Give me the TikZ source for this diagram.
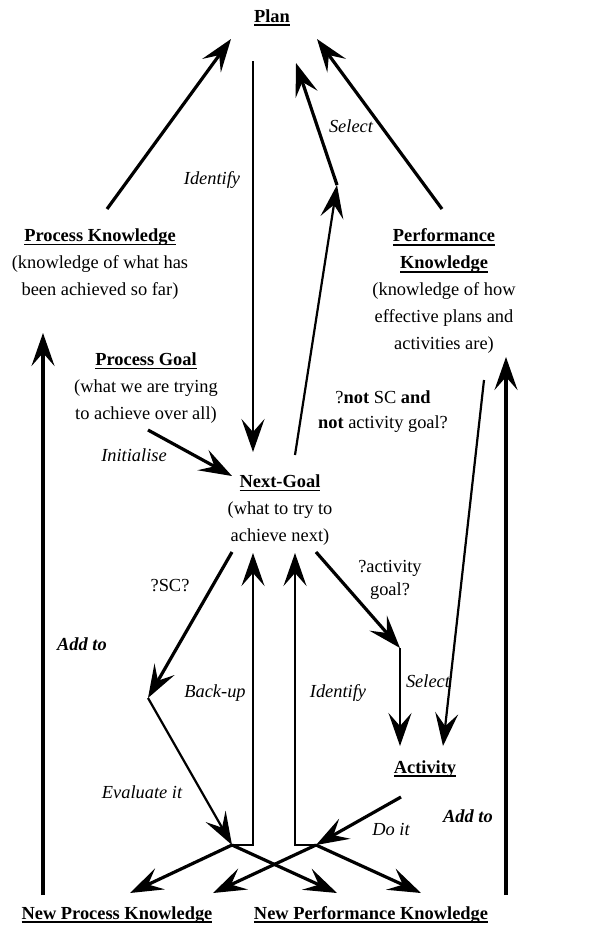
\documentclass[tikz,border=0pt]{standalone}
\usepackage{fontspec}
\setmainfont{Liberation Serif}
\usetikzlibrary{arrows.meta}
\newcommand\myul[1]{\leavevmode\setbox0\hbox{#1}\rlap{\vrule width\wd0 height -2.4pt depth 4.0pt}\box0}
\begin{document}
\begin{tikzpicture}[x=1pt,y=-1pt,
  every node/.style={inner sep=0pt,align=center,font=\fontsize{18.4}{27}\selectfont},
  txt/.style={anchor=center},
  btxt/.style={anchor=base},
  lab/.style={font=\fontsize{18.4}{27}\selectfont\itshape},
  blab/.style={font=\fontsize{18.4}{27}\selectfont\bfseries\itshape},
  bigarr/.style={line width=3.2pt,-{Stealth[length=33pt,width=23pt,inset=13pt]}},
  thinarr/.style={line width=2.2pt,-{Stealth[length=33pt,width=23pt,inset=13pt]}},
]
\useasboundingbox (0,0) rectangle (608,929);

% text nodes
\node[btxt] (plan) at (272,22) {\myul{\textbf{Plan}}};
\node[txt] (pk) at (100,264) {\myul{\textbf{Process Knowledge}}\\(knowledge of what has\\been achieved so far)};
\node[txt] (perfk) at (444,291) {\myul{\textbf{Performance}}\\\myul{\textbf{Knowledge}}\\(knowledge of how\\effective plans and\\activities are)};
\node[txt] (pg) at (146,388) {\myul{\textbf{Process Goal}}\\(what we are trying\\to achieve over all)};
\node[txt] (ng) at (280,510) {\myul{\textbf{Next-Goal}}\\(what to try to\\achieve next)};
\node[txt,font=\fontsize{18.4}{25}\selectfont] (notsc) at (383,412) {?\textbf{not} SC \textbf{and}\\\textbf{not} activity goal?};
\node[txt,font=\fontsize{18.4}{23}\selectfont] (actg) at (390,580) {?activity\\goal?};
\node[btxt] (act) at (425,773) {\myul{\textbf{Activity}}};
\node[btxt] (npk) at (117,919) {\myul{\textbf{New Process Knowledge}}};
\node[btxt] (nperf) at (371,919) {\myul{\textbf{New Performance Knowledge}}};
\node[txt] (sc) at (170,586) {?SC?};

% labels
\node[lab] (l1) at (212,180) {Identify};
\node[lab] (l2) at (351,126) {Select};
\node[lab] (l3) at (134,455) {Initialise};
\node[blab] (l4) at (82,644) {Add to};
\node[blab] (l5) at (468,816) {Add to};
\node[lab] (l6) at (142,792) {Evaluate it};
\node[lab] (l7) at (215,693) {Back-up};
\node[lab] (l8) at (338,693) {Identify};
\node[lab] (l9) at (428,681) {Select};
\node[lab] (l10) at (391,829) {Do it};

% connector points
\coordinate (pkS) at (107,209);
\coordinate (planL) at (231,39);
\coordinate (idT) at (253,61);
\coordinate (ngT) at (253,452);
\coordinate (ngS) at (295,455);
\coordinate (selB) at (337,185);
\coordinate (planM) at (296,63);
\coordinate (perfS) at (442,209);
\coordinate (planR) at (317,39);
\coordinate (pgS) at (148,430);
\coordinate (ngL) at (232,476);
\coordinate (npkUp) at (43,895);
\coordinate (pkIn) at (43,333);
\coordinate (nperfUp) at (506,895);
\coordinate (perfIn) at (506,357);
\coordinate (perfD) at (484,380);
\coordinate (actR) at (443,746);
\coordinate (ngSW) at (232,552);
\coordinate (scB) at (148,698);
\coordinate (jL) at (232,845);
\coordinate (jLc) at (253,845);
\coordinate (ngB1) at (253,553);
\coordinate (jR) at (316,845);
\coordinate (jRc) at (295,845);
\coordinate (ngB2) at (295,553);
\coordinate (ngSE) at (316,552);
\coordinate (agB) at (400,648);
\coordinate (actL) at (400,746);
\coordinate (actS) at (401,797);
\coordinate (npkA) at (130,893);
\coordinate (nperfA) at (337,893);
\coordinate (npkB) at (213,893);
\coordinate (nperfB) at (421,893);

% connectors
\draw[bigarr] (pkS) -- (planL);
\draw[thinarr] (idT) -- (ngT);
\draw[thinarr] (ngS) -- (selB);
\draw[bigarr] (selB) -- (planM);
\draw[bigarr] (perfS) -- (planR);
\draw[bigarr] (pgS) -- (ngL);
\draw[bigarr] (npkUp) -- (pkIn);
\draw[bigarr] (nperfUp) -- (perfIn);
\draw[thinarr] (perfD) -- (actR);
\draw[bigarr] (ngSW) -- (scB);
\draw[thinarr] (scB) -- (jL);
\draw[thinarr] (jL) -- (jLc) -- (ngB1);
\draw[thinarr] (jR) -- (jRc) -- (ngB2);
\draw[bigarr] (ngSE) -- (agB);
\draw[thinarr] (agB) -- (actL);
\draw[bigarr] (actS) -- (jR);
\draw[bigarr] (jL) -- (npkA);
\draw[bigarr] (jL) -- (nperfA);
\draw[bigarr] (jR) -- (npkB);
\draw[bigarr] (jR) -- (nperfB);
\end{tikzpicture}
\end{document}
